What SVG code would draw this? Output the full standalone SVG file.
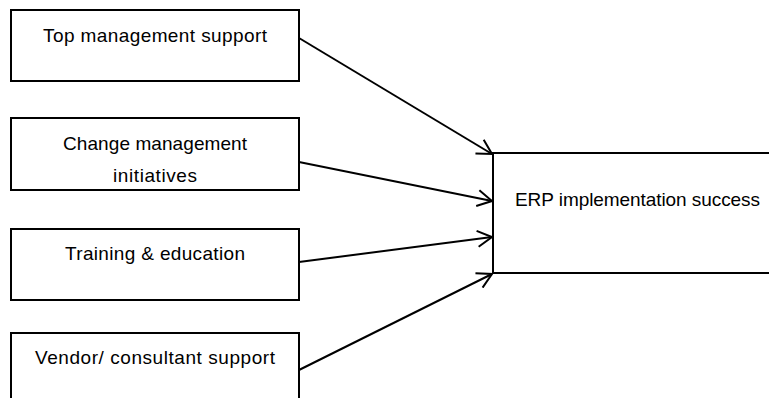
<svg xmlns="http://www.w3.org/2000/svg" width="769" height="398" viewBox="0 0 769 398">
  <style>
    .box { fill: #ffffff; stroke: #000000; stroke-width: 2; }
    .label { font-family: "Liberation Sans", Arial, sans-serif; font-size: 19px; fill: #000000; }
    .mid { text-anchor: middle; }
    .edge { fill: none; stroke: #000000; stroke-width: 2; marker-end: url(#open-arrow); }
  </style>
  <defs>
    <marker id="open-arrow" viewBox="0 0 18 18" refX="16" refY="9" markerWidth="18" markerHeight="18" markerUnits="userSpaceOnUse" orient="auto">
      <path d="M1.5,1 L16,9 L1.5,17" fill="none" stroke="#000000" stroke-width="2"/>
    </marker>
  </defs>

  <rect width="769" height="398" fill="#ffffff"/>

  <g id="top-management">
    <rect class="box" x="11" y="10" width="288" height="71"/>
    <text class="label mid" x="155" y="42" textLength="224">Top management support</text>
  </g>

  <g id="change-management">
    <rect class="box" x="11" y="118" width="288" height="72"/>
    <text class="label mid" x="155" y="150" textLength="184">Change management</text>
    <text class="label mid" x="155" y="182" textLength="84">initiatives</text>
  </g>

  <g id="training">
    <rect class="box" x="11" y="229" width="288" height="71"/>
    <text class="label mid" x="155" y="260" textLength="180">Training &amp; education</text>
  </g>

  <g id="vendor-support">
    <rect class="box" x="11" y="333" width="288" height="80"/>
    <text class="label mid" x="155" y="364" textLength="240">Vendor/ consultant support</text>
  </g>

  <g id="erp-success">
    <rect class="box" x="493" y="153" width="300" height="120"/>
    <text class="label" x="515" y="206" textLength="245">ERP implementation success</text>
  </g>

  <g id="connectors">
    <line class="edge" x1="299" y1="38" x2="492" y2="154"/>
    <line class="edge" x1="299" y1="162" x2="492" y2="201"/>
    <line class="edge" x1="299" y1="262" x2="492" y2="237"/>
    <line class="edge" x1="299" y1="370" x2="492" y2="274"/>
  </g>
</svg>
